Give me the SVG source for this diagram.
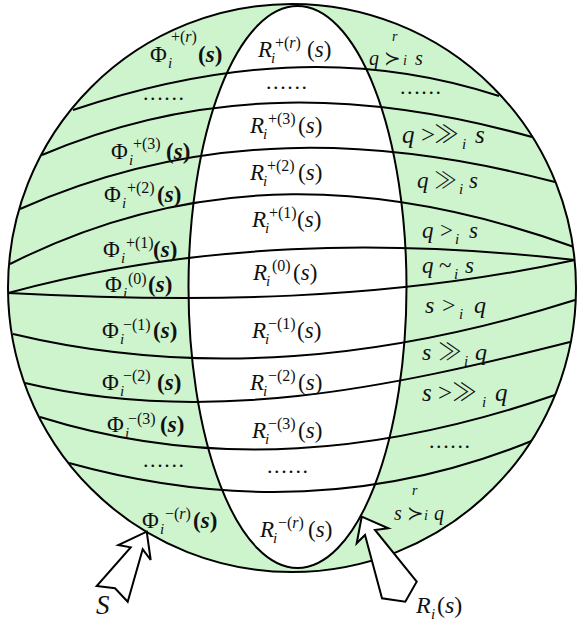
<svg xmlns="http://www.w3.org/2000/svg" width="577" height="621" viewBox="0 0 577 621">
<style>
.t{font-family:"Liberation Serif","DejaVu Serif",serif;font-size:23px;fill:#111}
.it{font-style:italic}
.b{font-weight:bold}
.sup{font-size:16px}
.sub{font-size:15px;font-style:italic}
.sym{font-family:"Noto Sans CJK JP","DejaVu Serif",serif;font-weight:300}
.suc{font-family:"DejaVu Sans","DejaVu Serif",sans-serif;font-weight:200}
.dots{font-family:"Liberation Serif",serif;font-size:22px;letter-spacing:1.6px;fill:#111}
.ln{fill:none;stroke:#000;stroke-width:2}
.arrow{fill:#fff;stroke:#000;stroke-width:2;stroke-linejoin:miter}
</style>
<defs>
<clipPath id="disc"><circle cx="292" cy="288" r="284"/></clipPath>
</defs>
<g id="sphere">
<circle cx="292" cy="288" r="284" fill="#cef4ce"/>
<ellipse cx="297.5" cy="287" rx="109" ry="281" fill="#fff"/>
</g>
<g id="connectors" clip-path="url(#disc)">
<path class="ln" d="M73,110 C215,62.4 357,49.3 499,96"/>
<path class="ln" d="M42,155 C205.3,84.9 368.7,91.5 532,137"/>
<path class="ln" d="M20,209 C198.3,129.5 376.7,135.2 555,182"/>
<path class="ln" d="M10,264 C198,168.8 386,179.1 574,247"/>
<path class="ln" d="M8,293 C197,241.7 386,238.7 575,260"/>
<path class="ln" d="M8,293 C197,302.9 386,301.1 575,260"/>
<path class="ln" d="M13,334 C200.3,378.7 387.7,359.3 575,300"/>
<path class="ln" d="M25,383 C206.7,426.5 388.3,387.9 570,342"/>
<path class="ln" d="M40,417 C211.7,470.6 383.3,454.2 555,395"/>
<path class="ln" d="M69,463 C224,505.9 379,503.8 534,440"/>
</g>
<g id="outlines">
<ellipse class="ln" cx="297.5" cy="287" rx="109" ry="281"/>
<circle class="ln" cx="292" cy="288" r="284"/>
</g>
<g id="phi-labels">
<text class="t"><tspan x="150" y="62">Φ</tspan><tspan class="sub" x="168" y="68">i</tspan><tspan class="sup" x="171" y="42">+(<tspan class="it">r</tspan>)</tspan><tspan class="b" x="198" y="62">(<tspan class="it">s</tspan>)</tspan></text>
<text class="t"><tspan x="111" y="159">Φ</tspan><tspan class="sub" x="129" y="165">i</tspan><tspan class="sup" x="133" y="149">+(3)</tspan><tspan class="b" x="166" y="159">(<tspan class="it">s</tspan>)</tspan></text>
<text class="t"><tspan x="104" y="202">Φ</tspan><tspan class="sub" x="122" y="208">i</tspan><tspan class="sup" x="127" y="193">+(2)</tspan><tspan class="b" x="157" y="202">(<tspan class="it">s</tspan>)</tspan></text>
<text class="t"><tspan x="103" y="257">Φ</tspan><tspan class="sub" x="121" y="263">i</tspan><tspan class="sup" x="126" y="248">+(1)</tspan><tspan class="b" x="153" y="257">(<tspan class="it">s</tspan>)</tspan></text>
<text class="t"><tspan x="105" y="292">Φ</tspan><tspan class="sub" x="123" y="298">i</tspan><tspan class="sup" x="128" y="284">(0)</tspan><tspan class="b" x="148" y="292">(<tspan class="it">s</tspan>)</tspan></text>
<text class="t"><tspan x="102" y="338">Φ</tspan><tspan class="sub" x="120" y="344">i</tspan><tspan class="sup" x="123" y="330">−(1)</tspan><tspan class="b" x="153" y="338">(<tspan class="it">s</tspan>)</tspan></text>
<text class="t"><tspan x="102" y="390">Φ</tspan><tspan class="sub" x="120" y="396">i</tspan><tspan class="sup" x="123" y="381">−(2)</tspan><tspan class="b" x="157" y="390">(<tspan class="it">s</tspan>)</tspan></text>
<text class="t"><tspan x="107" y="432">Φ</tspan><tspan class="sub" x="125" y="438">i</tspan><tspan class="sup" x="128" y="424">−(3)</tspan><tspan class="b" x="160" y="432">(<tspan class="it">s</tspan>)</tspan></text>
<text class="t"><tspan x="142" y="528">Φ</tspan><tspan class="sub" x="160" y="534">i</tspan><tspan class="sup" x="165" y="519">−(<tspan class="it">r</tspan>)</tspan><tspan class="b" x="193" y="528">(<tspan class="it">s</tspan>)</tspan></text>
<text class="dots" x="143" y="100">......</text>
<text class="dots" x="143" y="467">......</text>
</g>
<g id="r-labels">
<text class="t"><tspan class="it" x="258" y="57">R</tspan><tspan class="sub" x="271" y="63">i</tspan><tspan class="sup" x="275" y="48">+(<tspan class="it">r</tspan>)</tspan><tspan x="307" y="57">(<tspan class="it">s</tspan>)</tspan></text>
<text class="t"><tspan class="it" x="250" y="133">R</tspan><tspan class="sub" x="263" y="139">i</tspan><tspan class="sup" x="268" y="124">+(3)</tspan><tspan x="298" y="133">(<tspan class="it">s</tspan>)</tspan></text>
<text class="t"><tspan class="it" x="250" y="180">R</tspan><tspan class="sub" x="263" y="186">i</tspan><tspan class="sup" x="267" y="171">+(2)</tspan><tspan x="298" y="180">(<tspan class="it">s</tspan>)</tspan></text>
<text class="t"><tspan class="it" x="252" y="227">R</tspan><tspan class="sub" x="265" y="233">i</tspan><tspan class="sup" x="269" y="218">+(1)</tspan><tspan x="297" y="227">(<tspan class="it">s</tspan>)</tspan></text>
<text class="t"><tspan class="it" x="253" y="280">R</tspan><tspan class="sub" x="266" y="286">i</tspan><tspan class="sup" x="272" y="271">(0)</tspan><tspan x="293" y="280">(<tspan class="it">s</tspan>)</tspan></text>
<text class="t"><tspan class="it" x="252" y="338">R</tspan><tspan class="sub" x="265" y="344">i</tspan><tspan class="sup" x="268" y="329">−(1)</tspan><tspan x="297" y="338">(<tspan class="it">s</tspan>)</tspan></text>
<text class="t"><tspan class="it" x="250" y="390">R</tspan><tspan class="sub" x="263" y="396">i</tspan><tspan class="sup" x="268" y="381">−(2)</tspan><tspan x="298" y="390">(<tspan class="it">s</tspan>)</tspan></text>
<text class="t"><tspan class="it" x="252" y="438">R</tspan><tspan class="sub" x="265" y="444">i</tspan><tspan class="sup" x="268" y="429">−(3)</tspan><tspan x="298" y="438">(<tspan class="it">s</tspan>)</tspan></text>
<text class="t"><tspan class="it" x="260" y="537">R</tspan><tspan class="sub" x="273" y="543">i</tspan><tspan class="sup" x="278" y="528">−(<tspan class="it">r</tspan>)</tspan><tspan x="308" y="537">(<tspan class="it">s</tspan>)</tspan></text>
<text class="dots" x="266" y="89">......</text>
<text class="dots" x="267" y="473">......</text>
</g>
<g id="relation-labels">
<text class="t" style="font-size:20px"><tspan class="it" x="369" y="65">q</tspan><tspan class="suc" x="384" y="65">≻</tspan><tspan class="it" style="font-size:14px" x="392" y="41">r</tspan><tspan class="it" style="font-size:14px" x="403" y="65">i</tspan><tspan class="it" x="415" y="65">s</tspan></text>
<text class="t" style="font-size:25px"><tspan class="it" x="402" y="143">q</tspan><tspan x="421" y="143">&gt;</tspan><tspan class="sym" x="434" y="143">≫</tspan><tspan class="sub" x="462" y="149">i</tspan><tspan class="it" x="475" y="143">s</tspan></text>
<text class="t"><tspan class="it" x="417" y="188">q</tspan><tspan class="sym" x="434" y="188">≫</tspan><tspan class="sub" x="459" y="194">i</tspan><tspan class="it" x="469" y="188">s</tspan></text>
<text class="t"><tspan class="it" x="422" y="238">q</tspan><tspan x="440" y="238">&gt;</tspan><tspan class="sub" x="455" y="244">i</tspan><tspan class="it" x="469" y="238">s</tspan></text>
<text class="t"><tspan class="it" x="422" y="273">q</tspan><tspan x="439" y="273">~</tspan><tspan class="sub" x="454" y="279">i</tspan><tspan class="it" x="465" y="273">s</tspan></text>
<text class="t" style="font-size:24px"><tspan class="it" x="425" y="313">s</tspan><tspan x="442" y="313">&gt;</tspan><tspan class="sub" x="459" y="319">i</tspan><tspan class="it" x="474" y="313">q</tspan></text>
<text class="t" style="font-size:24px"><tspan class="it" x="422" y="360">s</tspan><tspan class="sym" x="438" y="360">≫</tspan><tspan class="sub" x="464" y="366">i</tspan><tspan class="it" x="475" y="360">q</tspan></text>
<text class="t" style="font-size:25px"><tspan class="it" x="422" y="401">s</tspan><tspan x="438" y="401">&gt;</tspan><tspan class="sym" x="452" y="401">≫</tspan><tspan class="sub" x="482" y="407">i</tspan><tspan class="it" x="495" y="401">q</tspan></text>
<text class="t" style="font-size:20px"><tspan class="it" x="394" y="520">s</tspan><tspan class="suc" x="407" y="520">≻</tspan><tspan class="it" style="font-size:14px" x="412" y="495">r</tspan><tspan class="it" style="font-size:14px" x="424" y="520">i</tspan><tspan class="it" x="434" y="520">q</tspan></text>
<text class="dots" x="400" y="94">......</text>
<text class="dots" x="429" y="448">......</text>
</g>
<g id="arrow-S">
<polygon class="arrow" points="146.7,531.7 150.7,560 142.7,549.3 127.7,601.7 115,588.3 96.7,586 130.7,547.3 118.3,545"/>
<text class="t it" style="font-size:27px" x="96" y="614">S</text>
</g>
<g id="arrow-R">
<polygon class="arrow" points="361.7,516.7 388.3,528.3 375,530 416.7,581.7 405.3,601.7 382,598.3 365,535 356.7,543.3"/>
<text class="t" style="font-size:24px"><tspan class="it" x="416" y="613">R</tspan><tspan class="sub" x="431" y="619">i</tspan><tspan x="437" y="613">(<tspan class="it">s</tspan>)</tspan></text>
</g>
</svg>
